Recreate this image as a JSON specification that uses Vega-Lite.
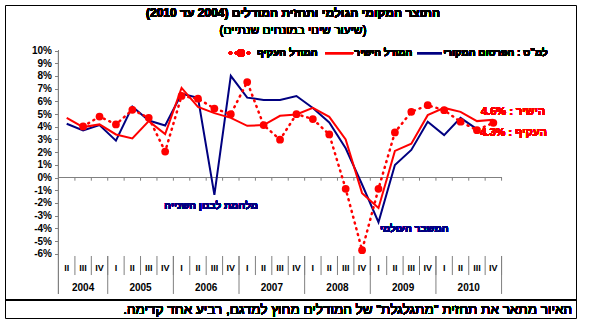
{
  "$schema": "https://vega.github.io/schema/vega-lite/v6.json",
  "width": 571,
  "height": 313,
  "autosize": {"type": "none"},
  "padding": {"left": 5, "top": 5, "right": 14, "bottom": 13},
  "background": "white",
  "config": {"view": {"stroke": "black", "strokeWidth": 1}, "font": "Liberation Sans", "axis": {"labelOverlap": false, "labelBound": false, "labelFlush": false}},
  "datasets": {
    "q": [
      {"t": 0, "label": "II", "year": 2004, "official": 4.23, "direct": 4.70, "indirect": null},
      {"t": 1, "label": "III", "year": 2004, "official": 3.71, "direct": 3.97, "indirect": 4.02},
      {"t": 2, "label": "IV", "year": 2004, "official": 4.13, "direct": 4.18, "indirect": 4.80},
      {"t": 3, "label": "I", "year": 2005, "official": 2.90, "direct": 3.39, "indirect": 4.18},
      {"t": 4, "label": "II", "year": 2005, "official": 5.59, "direct": 3.08, "indirect": 5.33},
      {"t": 5, "label": "III", "year": 2005, "official": 4.49, "direct": 4.44, "indirect": 4.70},
      {"t": 6, "label": "IV", "year": 2005, "official": 4.10, "direct": 3.42, "indirect": 2.04},
      {"t": 7, "label": "I", "year": 2006, "official": 6.60, "direct": 7.05, "indirect": 6.42},
      {"t": 8, "label": "II", "year": 2006, "official": 6.27, "direct": 5.56, "indirect": 6.21},
      {"t": 9, "label": "III", "year": 2006, "official": -1.37, "direct": 5.07, "indirect": 5.43},
      {"t": 10, "label": "IV", "year": 2006, "official": 8.0, "direct": 4.70, "indirect": 4.99},
      {"t": 11, "label": "I", "year": 2007, "official": 6.29, "direct": 4.07, "indirect": 7.52},
      {"t": 12, "label": "II", "year": 2007, "official": 6.11, "direct": 4.13, "indirect": 4.13},
      {"t": 13, "label": "III", "year": 2007, "official": 6.11, "direct": 4.86, "indirect": 2.98},
      {"t": 14, "label": "IV", "year": 2007, "official": 6.42, "direct": 4.96, "indirect": 4.99},
      {"t": 15, "label": "I", "year": 2008, "official": 5.48, "direct": 5.48, "indirect": 4.60},
      {"t": 16, "label": "II", "year": 2008, "official": 4.33, "direct": 4.78, "indirect": 3.39},
      {"t": 17, "label": "III", "year": 2008, "official": 2.30, "direct": 3.00, "indirect": -0.89},
      {"t": 18, "label": "IV", "year": 2008, "official": -0.55, "direct": -1.23, "indirect": -5.72},
      {"t": 19, "label": "I", "year": 2009, "official": -3.52, "direct": -2.40, "indirect": -0.89},
      {"t": 20, "label": "II", "year": 2009, "official": 0.99, "direct": 2.09, "indirect": 3.55},
      {"t": 21, "label": "III", "year": 2009, "official": 2.17, "direct": 2.66, "indirect": 5.17},
      {"t": 22, "label": "IV", "year": 2009, "official": 4.39, "direct": 4.91, "indirect": 5.69},
      {"t": 23, "label": "I", "year": 2010, "official": 3.34, "direct": 5.48, "indirect": 5.30},
      {"t": 24, "label": "II", "year": 2010, "official": 4.70, "direct": 5.17, "indirect": 4.39},
      {"t": 25, "label": "III", "year": 2010, "official": 3.81, "direct": 4.44, "indirect": 3.73},
      {"t": 26, "label": "IV", "year": 2010, "official": null, "direct": 4.55, "indirect": 4.31}
    ]
  },
  "data": {"name": "q"},
  "layer": [
    {
      "mark": {"type": "rule", "color": "#808080", "strokeWidth": 1},
      "encoding": {
        "x": {"datum": -0.5, "type": "quantitative", "scale": {"domain": [-3.76, 31.036], "nice": false, "zero": false}, "axis": null},
        "y": {"datum": 10, "type": "quantitative", "scale": {"domain": [-11.063, 13.583], "nice": false, "zero": false},
          "axis": {"orient": "left", "offset": -53.5, "values": [-6, -5, -4, -3, -2, -1, 0, 1, 2, 3, 4, 5, 6, 7, 8, 9, 10], "tickCount": 40, "labelOverlap": false, "labelBound": false, "domain": false, "grid": false, "tickSize": 4, "tickColor": "#808080", "labelFont": "Liberation Sans", "labelFontWeight": "bold", "labelFontSize": 10, "labelColor": "black", "labelPadding": 3, "labelExpr": "datum.value + '%'", "title": null}},
        "y2": {"datum": -9.17}
      }
    },
    {
      "mark": {"type": "rule", "color": "#808080", "strokeWidth": 1},
      "encoding": {
        "x": {"datum": -0.5, "type": "quantitative"},
        "x2": {"datum": 26.5},
        "y": {"datum": 0, "type": "quantitative"}
      }
    },
    {
      "transform": [{"calculate": "datum.t + 0.5", "as": "b"}],
      "mark": {"type": "rule", "color": "#808080", "strokeWidth": 1},
      "encoding": {
        "x": {"field": "b", "type": "quantitative"},
        "y": {"datum": 0, "type": "quantitative"},
        "y2": {"datum": -0.25}
      }
    },
    {
      "transform": [{"calculate": "datum.t + 0.5", "as": "b"}],
      "mark": {"type": "rule", "color": "#808080", "strokeWidth": 1},
      "encoding": {
        "x": {"field": "b", "type": "quantitative"},
        "y": {"datum": -6.18, "type": "quantitative"},
        "y2": {"datum": -7.68}
      }
    },
    {
      "transform": [{"filter": "datum.label == 'IV'"}, {"calculate": "datum.t + 0.5", "as": "b"}],
      "mark": {"type": "rule", "color": "#808080", "strokeWidth": 1},
      "encoding": {
        "x": {"field": "b", "type": "quantitative"},
        "y": {"datum": -6.18, "type": "quantitative"},
        "y2": {"datum": -9.17}
      }
    },
    {
      "mark": {"type": "text", "font": "Liberation Sans", "fontWeight": "bold", "fontSize": 9, "baseline": "middle", "align": "center"},
      "encoding": {
        "x": {"field": "t", "type": "quantitative"},
        "y": {"datum": -7.13, "type": "quantitative"},
        "text": {"field": "label"}
      }
    },
    {
      "transform": [{"aggregate": [{"op": "mean", "field": "t", "as": "mid"}], "groupby": ["year"]}],
      "mark": {"type": "text", "font": "Liberation Sans", "fontWeight": "bold", "fontSize": 10, "baseline": "middle", "align": "center"},
      "encoding": {
        "x": {"field": "mid", "type": "quantitative"},
        "y": {"datum": -8.7, "type": "quantitative"},
        "text": {"field": "year"}
      }
    },
    {
      "mark": {"type": "line", "color": "#000080", "strokeWidth": 2},
      "encoding": {
        "x": {"field": "t", "type": "quantitative"},
        "y": {"field": "official", "type": "quantitative"}
      }
    },
    {
      "mark": {"type": "line", "color": "#FF0000", "strokeWidth": 2},
      "encoding": {
        "x": {"field": "t", "type": "quantitative"},
        "y": {"field": "direct", "type": "quantitative"}
      }
    },
    {
      "mark": {"type": "line", "color": "#FF0000", "strokeWidth": 2.5, "strokeDash": [1, 5], "strokeCap": "round"},
      "encoding": {
        "x": {"field": "t", "type": "quantitative"},
        "y": {"field": "indirect", "type": "quantitative"}
      }
    },
    {
      "mark": {"type": "point", "filled": true, "color": "#FF0000", "size": 60, "opacity": 1},
      "encoding": {
        "x": {"field": "t", "type": "quantitative"},
        "y": {"field": "indirect", "type": "quantitative"}
      }
    },
    {
      "mark": {"type": "text", "font": "Liberation Sans", "fontWeight": "bold", "fontSize": 12, "baseline": "middle", "align": "center", "text": "\u200fהתוצר המקומי הגולמי ותחזית המודלים (2004 עד 2010)\u200f"},
      "encoding": {"x": {"datum": 13.79, "type": "quantitative"}, "y": {"datum": 12.95, "type": "quantitative"}}
    },
    {
      "mark": {"type": "text", "font": "Liberation Sans", "fontSize": 12, "baseline": "middle", "align": "center", "text": "\u200f(שיעור שינוי במונחים שנתיים)\u200f"},
      "encoding": {"x": {"datum": 13.79, "type": "quantitative"}, "y": {"datum": 11.61, "type": "quantitative"}}
    },
    {
      "mark": {"type": "rule", "color": "#000080", "strokeWidth": 2},
      "encoding": {"x": {"datum": 21.35, "type": "quantitative"}, "x2": {"datum": 22.87}, "y": {"datum": 9.8, "type": "quantitative"}}
    },
    {
      "mark": {"type": "text", "font": "Liberation Sans", "fontWeight": "bold", "fontSize": 10, "baseline": "middle", "align": "left", "text": "למ\"ס : הפרסום המקורי"},
      "encoding": {"x": {"datum": 22.95, "type": "quantitative"}, "y": {"datum": 9.8, "type": "quantitative"}}
    },
    {
      "mark": {"type": "rule", "color": "#FF0000", "strokeWidth": 2},
      "encoding": {"x": {"datum": 15.74, "type": "quantitative"}, "x2": {"datum": 17.45}, "y": {"datum": 9.8, "type": "quantitative"}}
    },
    {
      "mark": {"type": "text", "font": "Liberation Sans", "fontWeight": "bold", "fontSize": 10, "baseline": "middle", "align": "left", "text": "המודל הישיר"},
      "encoding": {"x": {"datum": 17.53, "type": "quantitative"}, "y": {"datum": 9.8, "type": "quantitative"}}
    },
    {
      "mark": {"type": "rule", "color": "#FF0000", "strokeWidth": 2.5, "strokeDash": [1, 5], "strokeCap": "round"},
      "encoding": {"x": {"datum": 9.95, "type": "quantitative"}, "x2": {"datum": 11.29}, "y": {"datum": 9.8, "type": "quantitative"}}
    },
    {
      "mark": {"type": "point", "filled": true, "color": "#FF0000", "size": 60, "opacity": 1},
      "encoding": {"x": {"datum": 10.62, "type": "quantitative"}, "y": {"datum": 9.8, "type": "quantitative"}}
    },
    {
      "mark": {"type": "text", "font": "Liberation Sans", "fontWeight": "bold", "fontSize": 10, "baseline": "middle", "align": "left", "text": "המודל העקיף"},
      "encoding": {"x": {"datum": 11.6, "type": "quantitative"}, "y": {"datum": 9.8, "type": "quantitative"}}
    },
    {
      "mark": {"type": "text", "font": "Liberation Sans", "fontWeight": "bold", "fontSize": 10, "baseline": "middle", "align": "right", "color": "#000080", "text": "מלחמת לבנון השנייה"},
      "encoding": {"x": {"datum": 11.66, "type": "quantitative"}, "y": {"datum": -2.24, "type": "quantitative"}}
    },
    {
      "mark": {"type": "text", "font": "Liberation Sans", "fontWeight": "bold", "fontSize": 10, "baseline": "middle", "align": "right", "color": "#000080", "text": "המשבר העולמי"},
      "encoding": {"x": {"datum": 23.27, "type": "quantitative"}, "y": {"datum": -4.06, "type": "quantitative"}}
    },
    {
      "mark": {"type": "text", "font": "Liberation Sans", "fontWeight": "bold", "fontSize": 11, "baseline": "middle", "align": "left", "color": "#FF0000", "text": "\u200fהישיר : 4.6%\u200f"},
      "encoding": {"x": {"datum": 25.25, "type": "quantitative"}, "y": {"datum": 5.16, "type": "quantitative"}}
    },
    {
      "mark": {"type": "text", "font": "Liberation Sans", "fontWeight": "bold", "fontSize": 11, "baseline": "middle", "align": "left", "color": "#FF0000", "text": "\u200fהעקיף : 4.3%\u200f"},
      "encoding": {"x": {"datum": 25.2, "type": "quantitative"}, "y": {"datum": 3.5, "type": "quantitative"}}
    },
    {
      "mark": {"type": "rule", "color": "black", "strokeWidth": 1},
      "encoding": {"x": {"datum": -3.76, "type": "quantitative"}, "x2": {"datum": 31.036}, "y": {"datum": -9.65, "type": "quantitative"}}
    },
    {
      "mark": {"type": "text", "font": "Liberation Sans", "fontSize": 13.5, "baseline": "middle", "align": "right", "color": "black", "text": "\u200fהאיור מתאר את תחזית \"מתגלגלת\" של המודלים מחוץ למדגם, רביע אחד קדימה.\u200f"},
      "encoding": {"x": {"datum": 30.79, "type": "quantitative"}, "y": {"datum": -10.45, "type": "quantitative"}}
    }
  ]
}
